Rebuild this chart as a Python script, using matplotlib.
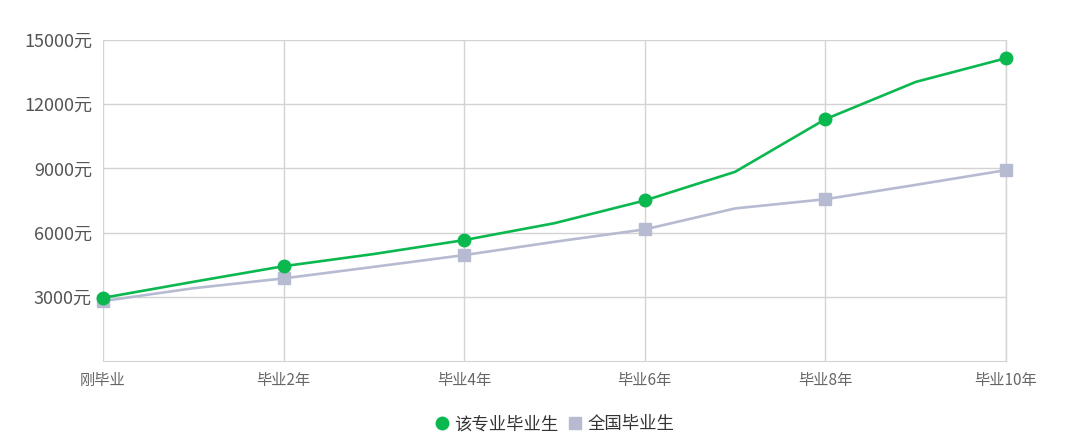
import matplotlib
matplotlib.use('Agg')
import matplotlib.pyplot as plt
from matplotlib.lines import Line2D
from matplotlib.ticker import FuncFormatter

plt.rcParams['font.family'] = ['Noto Sans CJK SC', 'DejaVu Sans']

# Salary by years after graduation (0..10)
years = list(range(11))
major_salary = [2950, 3700, 4430, 5000, 5650, 6440, 7500, 8840, 11300, 13040, 14150]
national_salary = [2800, 3400, 3860, 4400, 4950, 5570, 6150, 7130, 7560, 8230, 8920]
x_ticks = [0, 2, 4, 6, 8, 10]
x_labels = ['刚毕业', '毕业2年', '毕业4年', '毕业6年', '毕业8年', '毕业10年']
y_ticks = [3000, 6000, 9000, 12000, 15000]
series_names = ['该专业毕业生', '全国毕业生']

green = '#0BB84F'
grey = '#B7BBD1'
text_color = '#666666'
grid_color = '#D3D3D3'

fig = plt.figure(figsize=(10.69, 4.48), dpi=100)
ax = fig.add_axes([103 / 1069, 1 - 361 / 448, (1006 - 103) / 1069, (361 - 40) / 448])

# Lines, markers only on the even years
ax.plot(years, major_salary, color=green, lw=1.9, zorder=3,
        marker='o', markersize=9, markevery=x_ticks, clip_on=False)
ax.plot(years, national_salary, color=grey, lw=1.9, zorder=2,
        marker='s', markersize=9, markevery=x_ticks, clip_on=False)

ax.set_xlim(0, 10)
ax.set_ylim(0, 15000)
ax.set_xticks(x_ticks)
ax.set_xticklabels(x_labels)
ax.set_yticks(y_ticks)
ax.yaxis.set_major_formatter(FuncFormatter(lambda v, pos: '{:d}元'.format(int(v))))
ax.tick_params(axis='x', length=0, pad=8, labelsize=11, labelcolor=text_color)
ax.tick_params(axis='y', length=0, pad=8, labelsize=13, labelcolor='#555555')

ax.grid(color=grid_color, lw=1)
ax.axvline(10, color=grid_color, lw=1, clip_on=False, zorder=0.5)
ax.set_axisbelow(True)
for side in ['top', 'right', 'left']:
    ax.spines[side].set_visible(False)
ax.spines['bottom'].set_color(grid_color)

handles = [Line2D([], [], ls='none', marker='o', color=green, markersize=9),
           Line2D([], [], ls='none', marker='s', color=grey, markersize=8)]
ax.legend(handles, series_names, loc='upper center', bbox_to_anchor=(0.5, -0.12), ncol=2,
          frameon=False, fontsize=12.5, handlelength=0.8, handletextpad=0.3,
          columnspacing=0.6, labelcolor='#333333')

fig.savefig('out.png', dpi=100)
